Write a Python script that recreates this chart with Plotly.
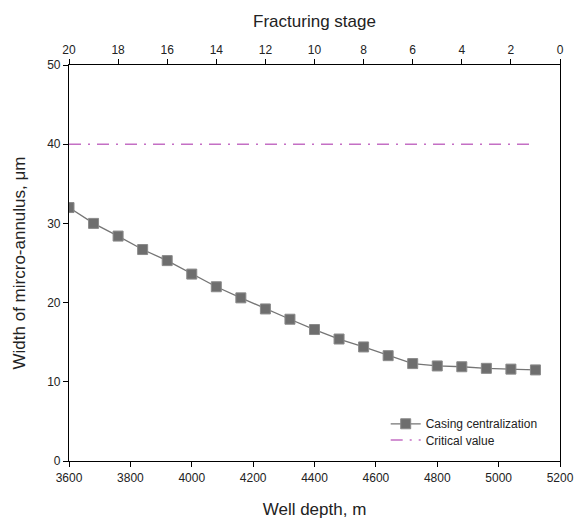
import plotly.graph_objects as go

# Well depth (m) at each fracturing stage, stage 20 -> stage 1
depth = [3600, 3680, 3760, 3840, 3920, 4000, 4080, 4160, 4240, 4320,
         4400, 4480, 4560, 4640, 4720, 4800, 4880, 4960, 5040, 5120]
stage = [20, 19, 18, 17, 16, 15, 14, 13, 12, 11,
         10, 9, 8, 7, 6, 5, 4, 3, 2, 1]
# Width of micro-annulus (um) with casing centralization
width = [32.0, 30.0, 28.4, 26.7, 25.3, 23.6, 22.0, 20.6, 19.2, 17.9,
         16.6, 15.4, 14.4, 13.3, 12.3, 12.0, 11.9, 11.7, 11.6, 11.5]
# Critical micro-annulus width (um)
critical_x = [3600, 5120]
critical_y = [40, 40]

font_family = "Liberation Sans, Arial, sans-serif"

fig = go.Figure()

fig.add_trace(go.Scatter(
    x=depth, y=width, mode="lines+markers", name="Casing centralization",
    line=dict(color="#757575", width=1.3),
    marker=dict(symbol="square", size=10, color="#6e6e6e",
                line=dict(color="#8a8a8a", width=1)),
    legend="legend",
))
fig.add_trace(go.Scatter(
    x=critical_x, y=critical_y, mode="lines", name="Critical value",
    line=dict(color="#c46fc4", width=1.5, dash="12px,7px,2px,7px"),
    legend="legend2",
))
# Secondary axis carrying the fracturing stage numbers
fig.add_trace(go.Scatter(
    x=stage, y=width, xaxis="x2", mode="markers",
    marker=dict(opacity=0), showlegend=False, hoverinfo="skip",
))

axis_common = dict(
    showline=True, linecolor="black", linewidth=1.2,
    ticks="outside", ticklen=5, tickcolor="black", tickwidth=1,
    showgrid=False, zeroline=False, automargin=False,
    tickfont=dict(family=font_family, size=12, color="#222"),
)

legend_common = dict(
    xanchor="left", yanchor="middle", x=0.645,
    bgcolor="rgba(0,0,0,0)", borderwidth=0,
    font=dict(family=font_family, size=12, color="#222"),
)

fig.update_layout(
    template="none",
    width=577, height=519,
    margin=dict(l=69, r=17, t=65, b=58),
    paper_bgcolor="white", plot_bgcolor="white",
    font=dict(family=font_family, color="#222"),
    xaxis=dict(range=[3600, 5200], dtick=200, mirror=False,
               title=dict(text="Well depth, m", font=dict(size=17), standoff=20),
               **axis_common),
    xaxis2=dict(range=[20, 0], dtick=2, overlaying="x", side="top",
                anchor="y",
                title=dict(text="Fracturing stage", font=dict(size=17), standoff=11),
                **axis_common),
    yaxis=dict(range=[0, 50], dtick=10, mirror=True,
               title=dict(text="Width of mircro-annulus, μm", font=dict(size=17), standoff=17),
               **axis_common),
    legend=dict(y=0.094, **legend_common),
    legend2=dict(y=0.053, **legend_common),
    showlegend=True,
)

fig.write_html("out.html")
